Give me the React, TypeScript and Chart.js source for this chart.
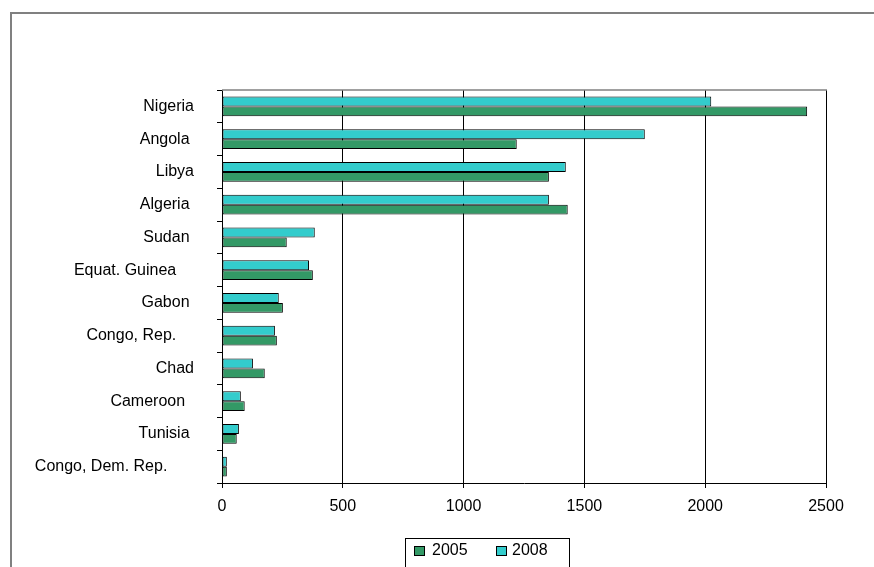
import React, { useEffect, useRef } from "react";
import { Chart, registerables } from "chart.js";

Chart.register(...registerables);

const categories = [
  "Nigeria",
  "Angola ",
  "Libya",
  "Algeria ",
  "Sudan ",
  "Equat. Guinea    ",
  "Gabon ",
  "Congo, Rep.    ",
  "Chad",
  "Cameroon  ",
  "Tunisia ",
  "Congo, Dem. Rep.      ",
];
const values2008 = [2025, 1750, 1423, 1353, 384, 360, 235, 219, 128, 78, 70, 20];
const values2005 = [2422, 1220, 1353, 1431, 268, 376, 252, 227, 177, 94, 61, 20];
const xTickValues = [0, 500, 1000, 1500, 2000, 2500];
const seriesNames = ["2005", "2008"];
const seriesColors = ["#339966", "#33CCCC"];

const FONT = "'Liberation Sans', Arial, sans-serif";

const framePlugin = {
  id: "frame",
  beforeDraw(chart: any) {
    const ctx = chart.ctx;
    ctx.save();
    ctx.strokeStyle = "#808080";
    ctx.lineWidth = 2;
    ctx.strokeRect(11, 13, 1000, 1000);
    ctx.restore();
  },
  afterDraw(chart: any) {
    const ctx = chart.ctx;
    const a = chart.chartArea;
    ctx.save();
    // top border of plot area
    ctx.strokeStyle = "#808080";
    ctx.lineWidth = 1.5;
    ctx.beginPath();
    ctx.moveTo(a.left, a.top);
    ctx.lineTo(a.right + 1, a.top);
    ctx.stroke();

    // legend
    const boxL = 405.5;
    const boxT = 538.5;
    const boxR = 569.5;
    ctx.strokeStyle = "#000";
    ctx.lineWidth = 1;
    ctx.strokeRect(boxL, boxT, boxR - boxL, 60);
    const items = [
      { sq: 414, tx: 432 },
      { sq: 496, tx: 512 },
    ];
    ctx.font = "16px " + FONT;
    ctx.textBaseline = "middle";
    ctx.textAlign = "left";
    items.forEach((it, i) => {
      ctx.fillStyle = seriesColors[i];
      ctx.fillRect(it.sq, 546, 11, 10);
      ctx.strokeStyle = "#000";
      ctx.strokeRect(it.sq + 0.5, 546.5, 10, 9);
      ctx.fillStyle = "#000";
      ctx.fillText(seriesNames[i], it.tx, 551);
    });
    ctx.restore();
  },
};

export default function App() {
  const ref = useRef<HTMLCanvasElement | null>(null);
  useEffect(() => {
    if (!ref.current) return;
    const chart = new Chart(ref.current, {
      type: "bar",
      data: {
        labels: categories,
        datasets: [
          {
            label: seriesNames[1],
            data: values2008,
            backgroundColor: seriesColors[1],
            borderColor: "#000",
            borderWidth: 1,
            borderSkipped: false,
          },
          {
            label: seriesNames[0],
            data: values2005,
            backgroundColor: seriesColors[0],
            borderColor: "#000",
            borderWidth: 1,
            borderSkipped: false,
          },
        ],
      },
      options: {
        indexAxis: "y",
        responsive: false,
        animation: false,
        datasets: { bar: { categoryPercentage: 0.6, barPercentage: 1 } },
        layout: { padding: { left: 0, top: 90, right: 48, bottom: 51 } },
        plugins: { legend: { display: false }, tooltip: { enabled: false } },
        scales: {
          x: {
            min: 0,
            max: 2500,
            afterBuildTicks: (s: any) => {
              s.ticks = xTickValues.map((v) => ({ value: v }));
            },
            afterFit: (s: any) => {
              s.height = 33;
            },
            grid: { color: "#000", lineWidth: 1, tickLength: 5, drawTicks: true },
            border: { display: true, color: "#000" },
            ticks: {
              color: "#000",
              font: { family: FONT, size: 16 },
              padding: 9,
              maxRotation: 0,
              callback: (v: any) => String(v),
            },
          },
          y: {
            afterFit: (s: any) => {
              s.width = 222;
            },
            grid: { display: true, drawOnChartArea: false, color: "#000", tickLength: 5, offset: true },
            border: { display: true, color: "#000" },
            ticks: { color: "#000", font: { family: FONT, size: 16 }, padding: 23, autoSkip: false },
          },
        },
      },
      plugins: [framePlugin],
    });
    return () => chart.destroy();
  }, []);
  return (
    <div style={{ position: "absolute", left: 0, top: 0, width: 874, height: 567 }}>
      <canvas ref={ref} width={874} height={567} style={{ width: 874, height: 567 }} />
    </div>
  );
}
